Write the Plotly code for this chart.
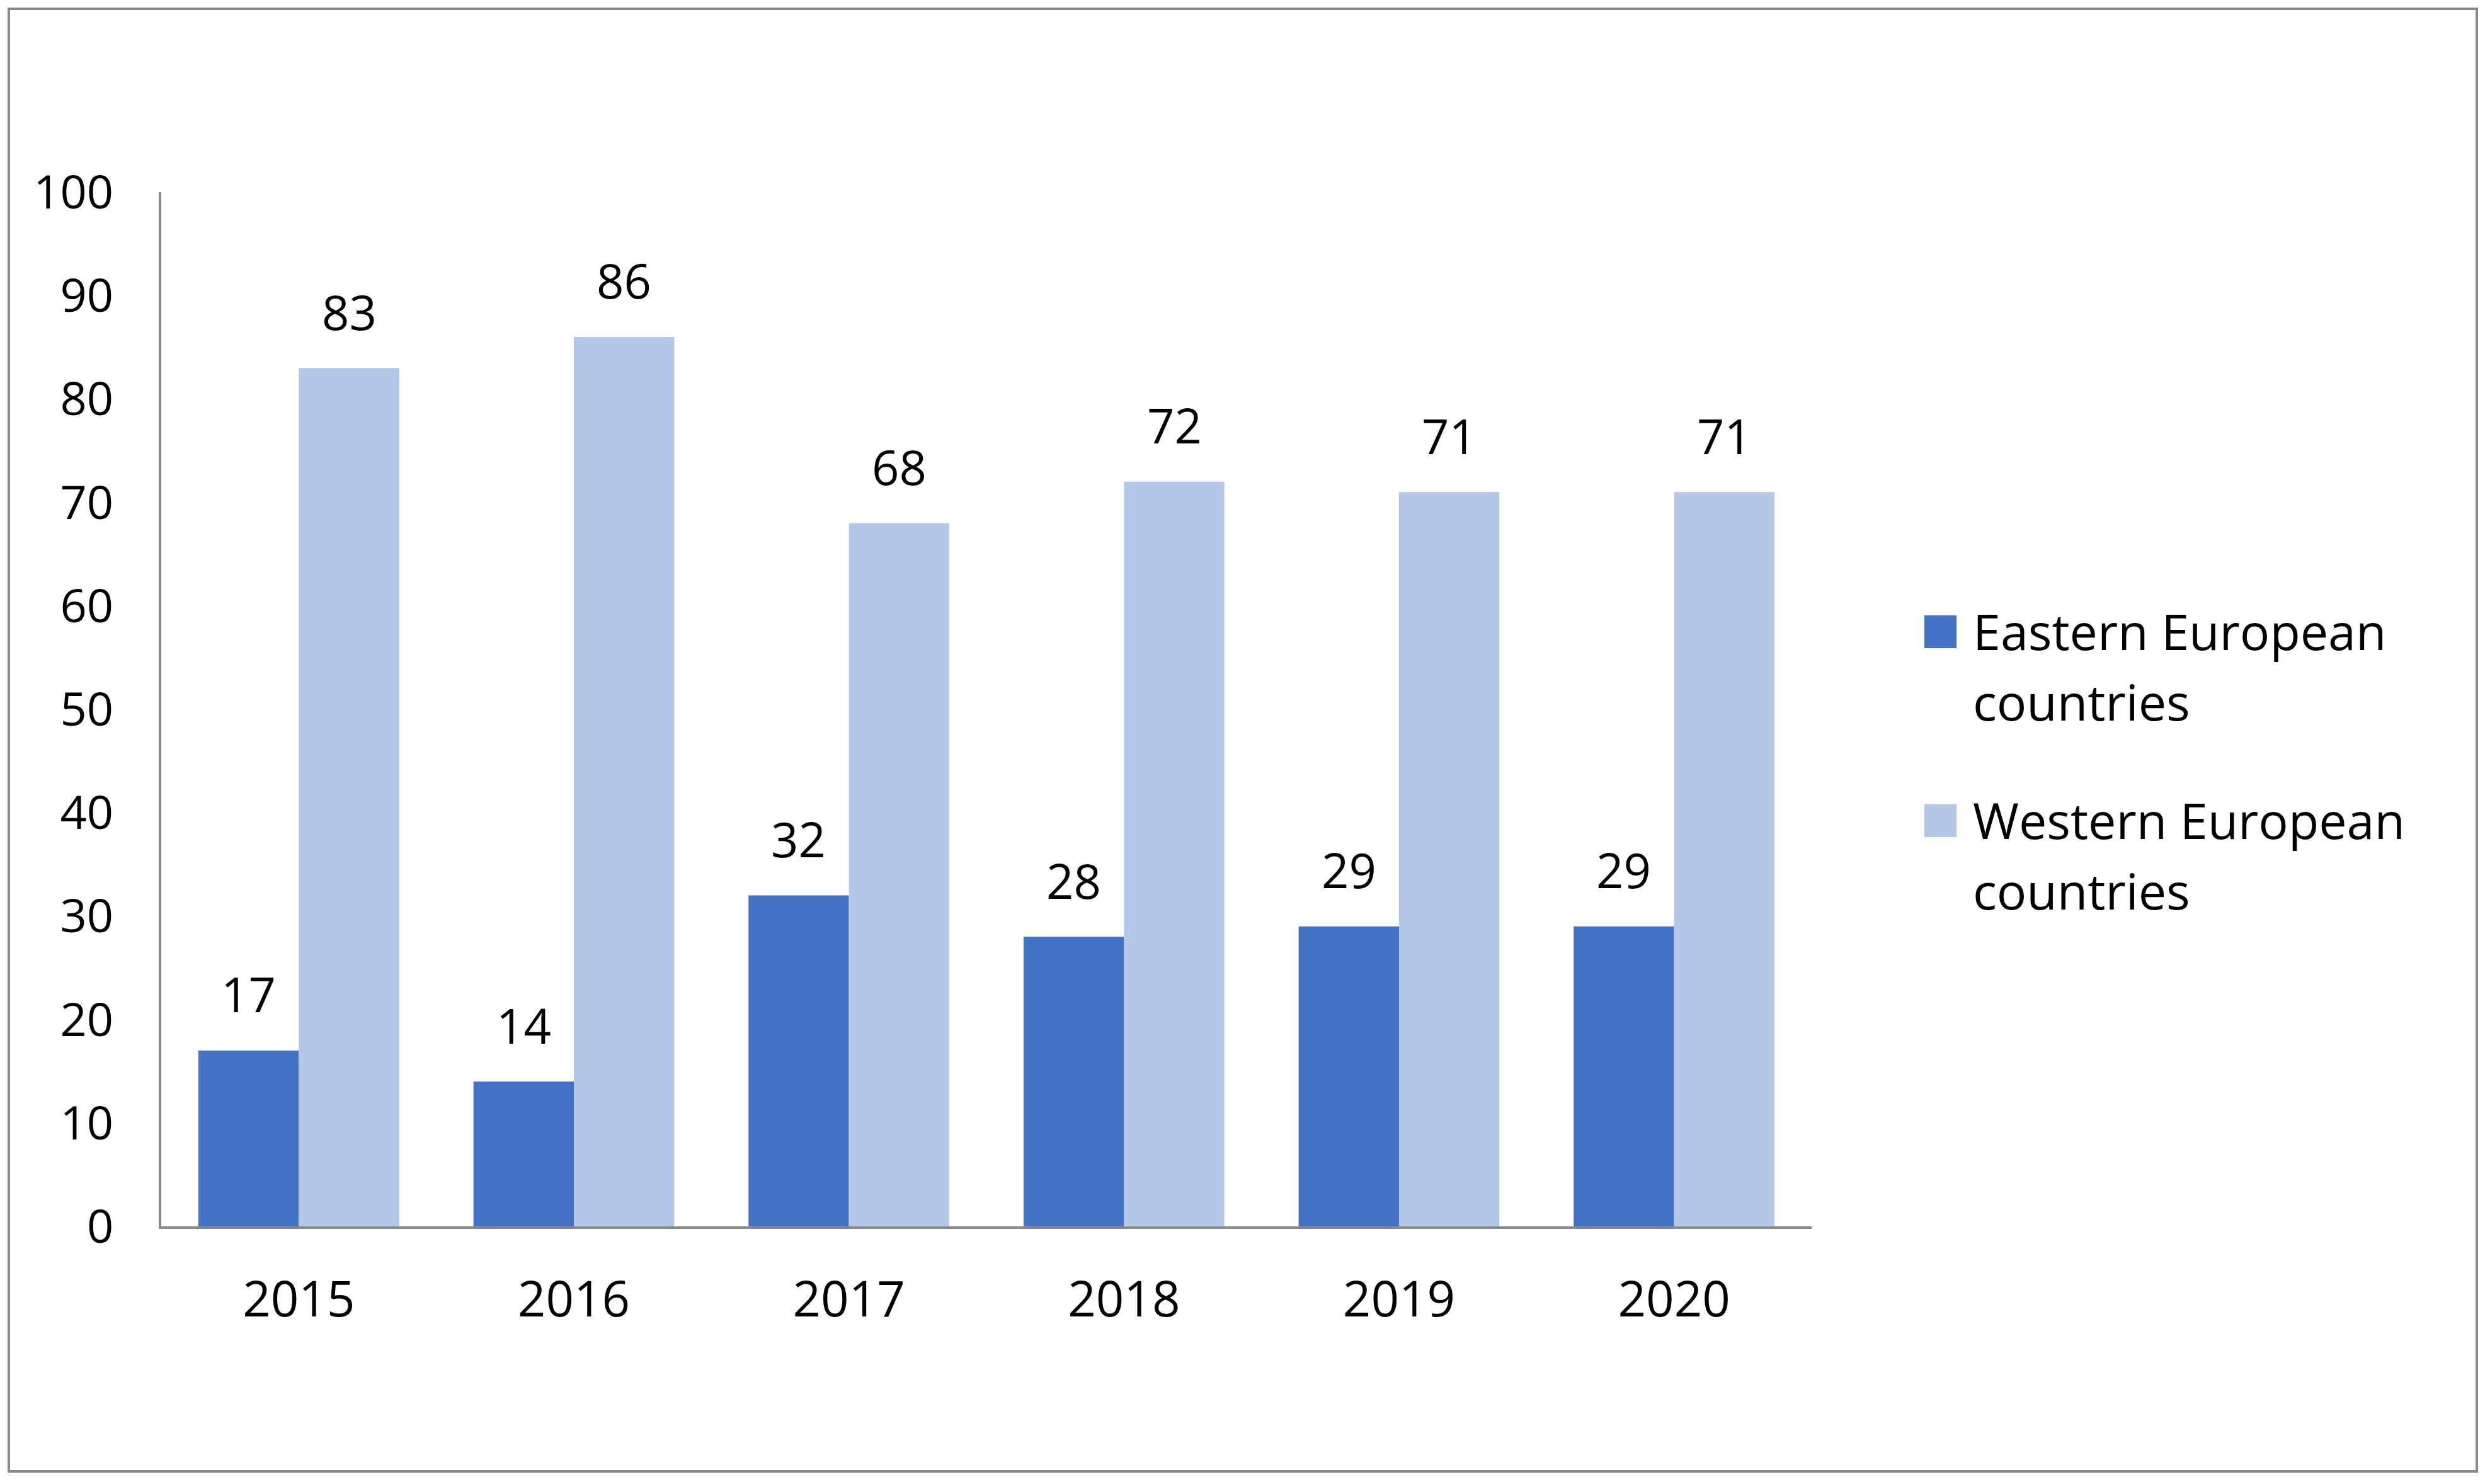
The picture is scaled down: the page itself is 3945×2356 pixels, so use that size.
import plotly.graph_objects as go

# ---- data ----
years = ["2015", "2016", "2017", "2018", "2019", "2020"]
eastern = [17, 14, 32, 28, 29, 29]
western = [83, 86, 68, 72, 71, 71]
series_names = ["Eastern European countries", "Western European countries"]
y_ticks = [0, 10, 20, 30, 40, 50, 60, 70, 80, 90, 100]

# ---- layout constants (pixels) ----
W, H = 3945, 2356
L, R, T, B = 256, 1069, 305, 409
PW, PH = W - L - R, H - T - B
BARGAP = 0.27
DARK, LIGHT = "#4472C4", "#B4C7E7"
GREY = "#898989"
FONT = "Open Sans"


def px(x):
    return (x - L) / PW


def py(y):
    return 1 - (y - T) / PH


fig = go.Figure()
fig.add_trace(go.Bar(x=years, y=eastern, name=series_names[0],
                     marker=dict(color=DARK, line=dict(width=0))))
fig.add_trace(go.Bar(x=years, y=western, name=series_names[1],
                     marker=dict(color=LIGHT, line=dict(width=0))))

# data labels above each bar (x given as category index)
cat_w = PW / len(years)
bar_w = cat_w * (1 - BARGAP) / 2
annotations = []
for vals, shift in ((eastern, -bar_w / 2), (western, bar_w / 2)):
    for i, v in enumerate(vals):
        annotations.append(dict(x=i, y=v, xref="x", yref="y", text=str(v),
                                showarrow=False, xshift=shift, yshift=90,
                                yanchor="middle", xanchor="center",
                                font=dict(family=FONT, size=76, color="black")))

# custom legend (large squares like the reference)
shapes = []
legend_rows = [(DARK, 977, series_names[0]), (LIGHT, 1277, series_names[1])]
for color, top, name in legend_rows:
    shapes.append(dict(type="rect", xref="paper", yref="paper",
                       x0=px(3055), x1=px(3106), y0=py(top), y1=py(top + 52),
                       fillcolor=color, line=dict(width=0)))
    first, second = name.rsplit(" ", 1)
    for text, cy in ((first, top + 24), (second, top + 136)):
        annotations.append(dict(x=px(3130), y=py(cy), xref="paper", yref="paper",
                                text=text, showarrow=False, xanchor="left",
                                yanchor="middle",
                                font=dict(family=FONT, size=79, color="black")))

# outer border
shapes.append(dict(type="rect", xref="paper", yref="paper",
                   x0=px(14), x1=px(3932), y0=py(14), y1=py(2336),
                   line=dict(color=GREY, width=4), fillcolor="rgba(0,0,0,0)"))

fig.update_layout(
    width=W, height=H,
    margin=dict(l=L, r=R, t=T, b=B, pad=0),
    paper_bgcolor="white", plot_bgcolor="white",
    barmode="group", bargap=BARGAP, bargroupgap=0,
    showlegend=False,
    font=dict(family=FONT, color="black"),
    annotations=annotations, shapes=shapes,
    xaxis=dict(type="category", range=[-0.5, len(years) - 0.5],
               showline=True, linecolor=GREY, linewidth=4,
               showgrid=False, zeroline=False, ticks="",
               tickfont=dict(family=FONT, size=78, color="black"),
               ticklabelstandoff=45),
    yaxis=dict(range=[0, 100], tickvals=y_ticks, showline=True, linecolor=GREY,
               linewidth=4, showgrid=False, zeroline=False, ticks="",
               tickfont=dict(family=FONT, size=74, color="black"),
               ticklabelstandoff=57),
)

fig.write_html("out.html",
               config={"displayModeBar": False},
               post_script="document.body.style.margin='0';"
                           "document.body.style.overflow='hidden';")
